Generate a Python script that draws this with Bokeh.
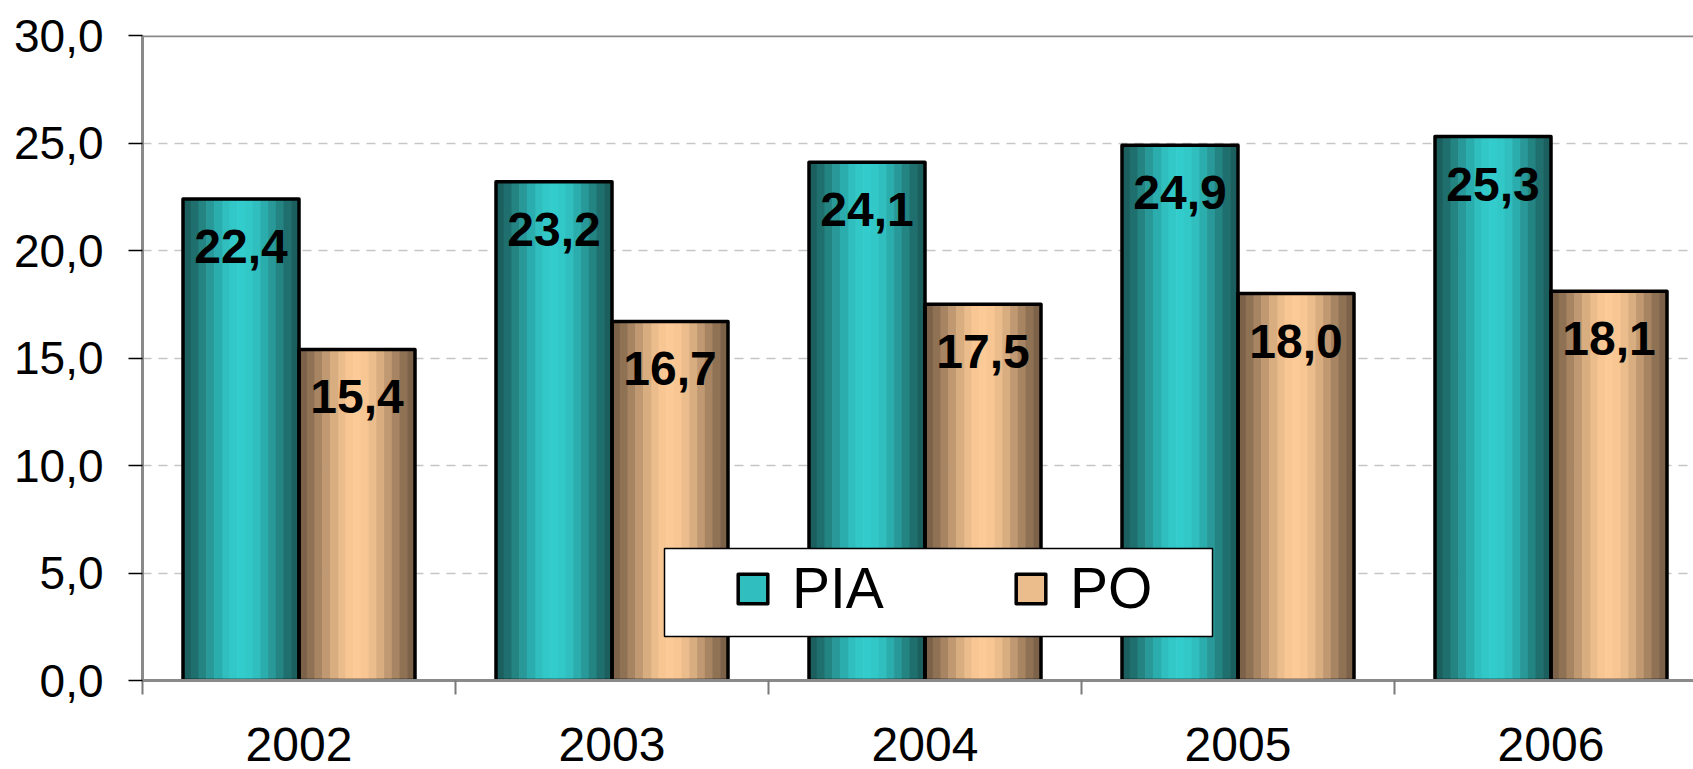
import math
from bokeh.plotting import figure
from bokeh.models import (FixedTicker, Legend, LegendItem, BoxAnnotation, Span,
                          Range1d, ColumnDataSource)
from bokeh.core.properties import value
from bokeh.embed import file_html
from bokeh.resources import INLINE

# ---------------- data ----------------
years = ["2002", "2003", "2004", "2005", "2006"]
pia = [22.4, 23.2, 24.1, 24.9, 25.3]
po = [15.4, 16.7, 17.5, 18.0, 18.1]
pia_labels = ["22,4", "23,2", "24,1", "24,9", "25,3"]
po_labels = ["15,4", "16,7", "17,5", "18,0", "18,1"]
series_names = ["PIA", "PO"]
y_ticks = [0, 5, 10, 15, 20, 25, 30]
y_tick_labels = ["0,0", "5,0", "10,0", "15,0", "20,0", "25,0", "30,0"]

# ---------------- layout / style ----------------
FONT = "Liberation Sans"
W, H = 1693, 769
ML, MR, MT, MB = 142, 0, 35, 89
FW, FH = W - ML - MR, H - MT - MB
CAT_PX = 313.0                      # pixels per category
X0 = -0.5
X1 = X0 + FW / CAT_PX
Y0, Y1 = 0, 30
PX_Y = FH / (Y1 - Y0)
BW = 116.0 / CAT_PX                 # bar width in category units
NS = 15                             # number of shading stripes per bar
K_LEG = NS // 2 - 2                 # stripe whose colour is used for the legend swatch

TEAL_EDGE, TEAL_CENTER = (26, 92, 90), (51, 204, 204)
PEACH_EDGE, PEACH_CENTER = (120, 94, 70), (252, 202, 150)


def shade(edge, center, t):
    d = abs(t - 0.5) * 2
    f = math.cos(d * math.pi / 2) ** 1.5
    c = [int(round(e + (m - e) * f)) for e, m in zip(edge, center)]
    return "#%02x%02x%02x" % tuple(c)


p = figure(width=W, height=H, output_backend="svg", toolbar_location=None,
           x_range=Range1d(X0, X1), y_range=Range1d(Y0, Y1),
           min_border_left=ML, min_border_right=MR,
           min_border_top=MT, min_border_bottom=MB)
p.outline_line_color = None
p.background_fill_color = "white"
p.border_fill_color = "white"

# grid
p.xgrid.grid_line_color = None
p.ygrid.ticker = FixedTicker(ticks=y_ticks)
p.ygrid.grid_line_color = "#c6c6c6"
p.ygrid.grid_line_dash = "9 7"
p.ygrid.grid_line_width = 1.5

xs = list(range(len(years)))
k_order = [K_LEG] + [k for k in range(NS) if k != K_LEG]

stripe_renderers, outline_renderers = [], []
for vals, offset, edge, center in ((pia, -BW, TEAL_EDGE, TEAL_CENTER),
                                   (po, 0.0, PEACH_EDGE, PEACH_CENTER)):
    left, right, top, color = [], [], [], []
    for k in k_order:
        for xi, v in zip(xs, vals):
            l = xi + offset + k * BW / NS
            left.append(l)
            right.append(l + BW / NS * 1.08)
            top.append(v)
            color.append(shade(edge, center, (k + 0.5) / NS))
    src = ColumnDataSource(dict(left=left, right=right, top=top, color=color))
    stripe_renderers.append(
        p.quad(left="left", right="right", top="top", bottom=0, fill_color="color",
               line_color=None, source=src))

for vals, offset in ((pia, -BW), (po, 0.0)):
    outline_renderers.append(
        p.quad(left=[x + offset for x in xs], right=[x + offset + BW for x in xs],
               top=vals, bottom=0, fill_color=None,
               line_color="black", line_width=3.5, line_join="round"))

# value labels
p.text(x=[x - BW / 2 for x in xs] + [x + BW / 2 for x in xs], y=pia + po,
       text=pia_labels + po_labels, text_font=value(FONT), text_font_style="bold",
       text_font_size="48px", text_align="center", text_baseline="top",
       y_offset=31, text_color="black")

# top frame line
p.add_layout(Span(location=Y1, dimension="width", line_color="#8a8a8a", line_width=3.5))

# axes
ya = p.yaxis[0]
ya.ticker = FixedTicker(ticks=y_ticks)
ya.major_label_overrides = {t: s for t, s in zip(y_ticks, y_tick_labels)}
ya.axis_line_color = "#8a8a8a"
ya.axis_line_width = 3
ya.major_tick_line_color = "black"
ya.major_tick_line_width = 1.5
ya.major_tick_out = 14
ya.major_tick_in = 0
ya.minor_tick_line_color = None
ya.major_label_standoff = 25
ya.major_label_text_font = FONT
ya.major_label_text_font_size = "46px"
ya.major_label_text_color = "black"

xa = p.xaxis[0]
xa.ticker = FixedTicker(ticks=xs, minor_ticks=[x - 0.5 for x in xs])
xa.major_label_overrides = {x: y for x, y in zip(xs, years)}
xa.axis_line_color = "#8a8a8a"
xa.axis_line_width = 3
xa.major_tick_line_color = None
xa.major_tick_out = 0
xa.major_tick_in = 0
xa.minor_tick_line_color = "#7a7a7a"
xa.minor_tick_line_width = 2
xa.minor_tick_out = 14
xa.minor_tick_in = 0
xa.major_label_standoff = 33
xa.major_label_text_font = FONT
xa.major_label_text_font_size = "48px"
xa.major_label_text_color = "black"


# legend box (white panel), placed in pixels from the frame's bottom-left
def px2x(px_from_left):
    return X0 + px_from_left / CAT_PX


box = BoxAnnotation(left=px2x(664 - ML), right=px2x(1212 - ML),
                    bottom=44 / PX_Y, top=132 / PX_Y,
                    fill_color="white", fill_alpha=1.0,
                    line_color="black", line_width=1.5, line_alpha=1.0)
p.add_layout(box)

legend = Legend(items=[LegendItem(label=series_names[0],
                                  renderers=[stripe_renderers[0], outline_renderers[0]], index=0),
                       LegendItem(label=series_names[1],
                                  renderers=[stripe_renderers[1], outline_renderers[1]], index=0)],
                orientation="horizontal", location=(734 - ML, 59),
                glyph_width=37, glyph_height=37, label_standoff=21, spacing=128,
                padding=0, margin=0, border_line_color=None,
                background_fill_alpha=0.0,
                label_text_font=FONT, label_text_font_size="57px",
                label_text_color="black")
p.add_layout(legend)

open("out.html", "w").write(file_html(p, INLINE))
